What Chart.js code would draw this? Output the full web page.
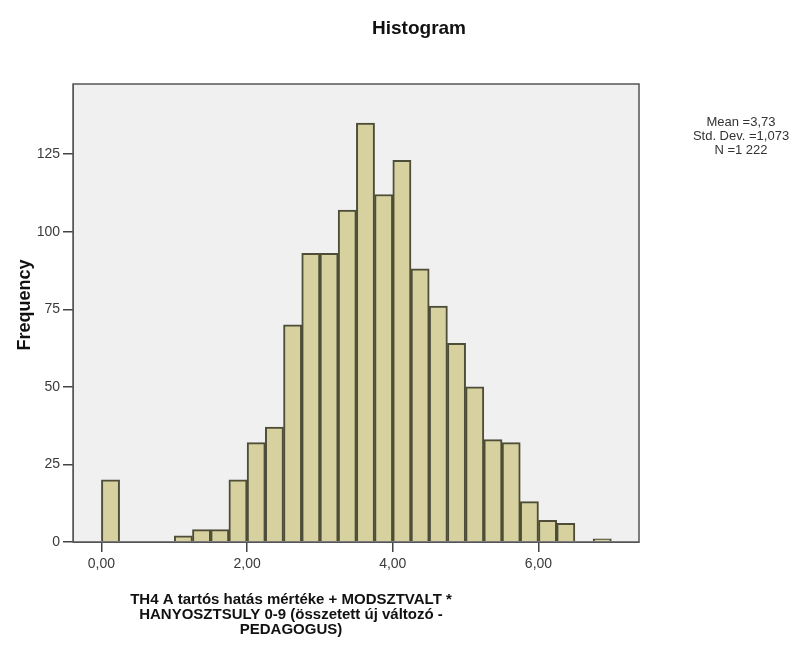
<!DOCTYPE html>
<html>
<head>
<meta charset="utf-8">
<script src="https://cdn.jsdelivr.net/npm/chart.js@4.4.1/dist/chart.umd.min.js"></script>
<style>
  html, body { margin: 0; padding: 0; background: #ffffff; }
  #wrap { width: 801px; height: 648px; }
</style>
</head>
<body>
<div id="wrap"><canvas id="chart" width="801" height="648"></canvas></div>
<script>
// histogram bins (start of each 0.25 wide bin) and counts
var binStarts = [0.00, 1.00, 1.25, 1.50, 1.75, 2.00, 2.25, 2.50, 2.75, 3.00, 3.25, 3.50,
                 3.75, 4.00, 4.25, 4.50, 4.75, 5.00, 5.25, 5.50, 5.75, 6.00, 6.25, 6.75];
var counts    = [20, 2, 4, 4, 20, 32, 37, 70, 93, 93, 107, 135,
                 112, 123, 88, 76, 64, 50, 33, 32, 13, 7, 6, 1];
var binWidth = 0.25;
var yTickStep = 25;
var xTickStep = 2;

var chartTitle = 'Histogram';
var yTitle = 'Frequency';
var xTitle = ['TH4 A tartós hatás mértéke + MODSZTVALT *',
              'HANYOSZTSULY 0-9 (összetett új változó -',
              'PEDAGOGUS)'];
var stats = ['Mean =3,73', 'Std. Dev. =1,073', 'N =1 222'];

var FONT = '"Liberation Sans", Arial, sans-serif';

var points = binStarts.map(function (s, i) {
	return { x: s + binWidth / 2, y: counts[i] };
});

// plot background, frame and the free-standing texts
var decor = {
	id: 'decor',
	beforeDraw: function (chart) {
		var a = chart.chartArea, ctx = chart.ctx;
		ctx.save();
		ctx.fillStyle = '#f0f0f0';
		ctx.fillRect(a.left, a.top, a.right - a.left, a.bottom - a.top);
		ctx.restore();
	},
	afterDraw: function (chart) {
		var a = chart.chartArea, ctx = chart.ctx;
		ctx.save();
		ctx.strokeStyle = '#555555';
		ctx.lineWidth = 1.5;
		ctx.strokeRect(a.left, a.top, a.right - a.left, a.bottom - a.top);

		ctx.fillStyle = '#111111';
		ctx.textAlign = 'center';
		ctx.textBaseline = 'alphabetic';
		ctx.font = 'bold 19px ' + FONT;
		ctx.fillText(chartTitle, 419, 34);

		ctx.font = 'bold 15px ' + FONT;
		xTitle.forEach(function (line, i) {
			ctx.fillText(line, 291, 604 + i * 15);
		});

		ctx.save();
		ctx.translate(30, 305);
		ctx.rotate(-Math.PI / 2);
		ctx.font = 'bold 18px ' + FONT;
		ctx.fillText(yTitle, 0, 0);
		ctx.restore();

		ctx.fillStyle = '#333333';
		ctx.font = '13px ' + FONT;
		ctx.textBaseline = 'middle';
		stats.forEach(function (line, i) {
			ctx.fillText(line, 741, 122 + i * 14);
		});
		ctx.restore();
	}
};

var data = {
	datasets: [{
		label: 'Frequency',
		data: points,
		backgroundColor: '#d6d19e',
		borderColor: '#4d4d38',
		borderWidth: 2,
		barPercentage: 1,
		categoryPercentage: 1
	}]
};

var options = {
	responsive: false,
	animation: false,
	layout: { padding: { left: 0, top: 84, right: 162, bottom: 76 } },
	plugins: {
		legend: { display: false },
		title: { display: false },
		tooltip: { enabled: false }
	},
	scales: {
		x: {
			type: 'linear',
			offset: false,
			min: -0.39,
			max: 7.38,
			afterFit: function (s) { s.height = 30; },
			grid: { offset: false, drawOnChartArea: false, drawTicks: true, tickLength: 10, lineWidth: 1.5, color: '#444444' },
			border: { color: '#555555' },
			ticks: {
				stepSize: xTickStep,
				includeBounds: false,
				padding: 4,
				color: '#3a3a3a',
				font: { family: FONT, size: 14 },
				callback: function (v) { return v.toFixed(2).replace('.', ','); }
			}
		},
		y: {
			min: 0,
			max: 147.6,
			afterFit: function (s) { s.width = 73; },
			grid: { drawOnChartArea: false, drawTicks: true, tickLength: 10, lineWidth: 1.5, color: '#444444' },
			border: { color: '#555555' },
			ticks: {
				stepSize: yTickStep,
				includeBounds: false,
				padding: 3,
				color: '#3a3a3a',
				font: { family: FONT, size: 14 }
			}
		}
	}
};

var chartInstance = new Chart(document.getElementById('chart').getContext('2d'), {
	type: 'bar',
	data: data,
	options: options,
	plugins: [decor]
});
</script>
</body>
</html>
